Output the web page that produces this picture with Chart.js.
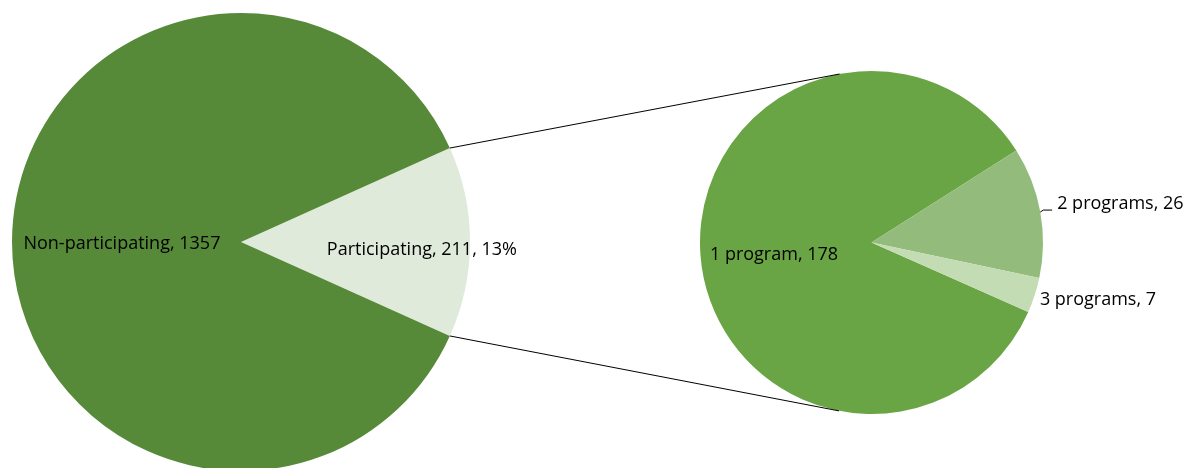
<!DOCTYPE html>
<html>
<head>
<meta charset="utf-8">
<script src="https://cdn.jsdelivr.net/npm/chart.js@4.4.0/dist/chart.umd.min.js"></script>
<style>
  html, body { margin: 0; padding: 0; background: #fff; overflow: hidden; }
  #wrap { position: relative; width: 1188px; height: 468px; overflow: hidden; }
  canvas { position: absolute; left: 0; top: 0; }
</style>
</head>
<body>
<div id="wrap">
  <canvas id="mainPie" width="1188" height="484"></canvas>
  <canvas id="subPie" width="1188" height="468"></canvas>
</div>
<script>
// main pie
const mainLabels = ['Participating', 'Non-participating'];
const mainValues = [211, 1357];
const mainColors = ['#E0EADB', '#568A39'];

// breakdown of the participating slice
const subLabels = ['1 program', '2 programs', '3 programs'];
const subValues = [178, 26, 7];
const subColors = ['#6AA545', '#93BC7C', '#C4DCB3'];

const FONT = '18px "Open Sans"';

const sum = arr => arr.reduce((a, b) => a + b, 0);

// f = fraction of radius, dy = nudge, align = text anchor
const mainLabelPos = [
  { f: 0.79, dy: 7, align: 'center' },
  { f: 0.52, dy: 1, align: 'center' }
];
const subLabelPos = [
  { f: 0.57, dy: 4, align: 'center' },
  { f: 1.10, dy: -6, align: 'left', leader: true },
  { f: 1.032, dy: 2, align: 'left' }
];

function labelPlugin(positions, textFor) {
  return {
    id: 'sliceLabels',
    afterDatasetsDraw(chart) {
      const ctx = chart.ctx;
      const arcs = chart.getDatasetMeta(0).data;
      ctx.save();
      ctx.font = FONT;
      ctx.fillStyle = '#000';
      ctx.textBaseline = 'alphabetic';
      arcs.forEach((arc, i) => {
        const p = positions[i];
        const mid = (arc.startAngle + arc.endAngle) / 2;
        const r = arc.outerRadius * p.f;
        const x = arc.x + Math.cos(mid) * r;
        const y = arc.y + Math.sin(mid) * r + p.dy;
        ctx.textAlign = p.align;
        ctx.fillText(textFor(i), x, y + 6);
        if (p.leader) {
          const ex = arc.x + Math.cos(mid) * arc.outerRadius;
          const ey = arc.y + Math.sin(mid) * arc.outerRadius;
          ctx.strokeStyle = '#000';
          ctx.lineWidth = 1;
          ctx.beginPath();
          ctx.moveTo(ex, ey);
          ctx.lineTo(ex + 3, ey - 2);
          ctx.lineTo(x - 5, ey - 2);
          ctx.stroke();
        }
      });
      ctx.restore();
    }
  };
}

const mainTotal = sum(mainValues);
const mainChart = new Chart(document.getElementById('mainPie'), {
  type: 'pie',
  data: {
    labels: mainLabels,
    datasets: [{
      data: mainValues,
      backgroundColor: mainColors,
      borderWidth: 0
    }]
  },
  options: {
    responsive: false,
    animation: false,
    // centre the participating slice on the right-hand side
    rotation: 90 - (mainValues[0] / mainTotal) * 180,
    layout: { padding: { left: 12, right: 718, top: 13, bottom: 13 } },
    plugins: { legend: { display: false }, tooltip: { enabled: false } }
  },
  plugins: [labelPlugin(mainLabelPos, i => {
    let t = mainLabels[i] + ', ' + mainValues[i];
    if (i === 0) t += ', ' + Math.round(mainValues[i] / mainTotal * 100) + '%';
    return t;
  })]
});

// lines from the participating slice edges, tangent to the second pie
const connectorPlugin = {
  id: 'connectors',
  afterDatasetsDraw(chart) {
    const src = mainChart.getDatasetMeta(0).data[0];
    const dst = chart.getDatasetMeta(0).data[0];
    const R = src.outerRadius;
    const pts = [src.startAngle, src.endAngle].map(a => ({
      x: src.x + Math.cos(a) * R,
      y: src.y + Math.sin(a) * R
    }));
    const ctx = chart.ctx;
    ctx.save();
    ctx.strokeStyle = '#000';
    ctx.lineWidth = 1;
    pts.forEach((p, k) => {
      const dx = p.x - dst.x, dy = p.y - dst.y;
      const d = Math.hypot(dx, dy);
      const base = Math.atan2(dy, dx);
      const delta = Math.acos(dst.outerRadius / d);
      const cand = [base + delta, base - delta].map(a => ({
        x: dst.x + Math.cos(a) * dst.outerRadius,
        y: dst.y + Math.sin(a) * dst.outerRadius
      }));
      cand.sort((a, b) => a.y - b.y);
      const t = k === 0 ? cand[0] : cand[1];
      ctx.beginPath();
      ctx.moveTo(p.x, p.y);
      ctx.lineTo(t.x, t.y);
      ctx.stroke();
    });
    ctx.restore();
  }
};

const subTotal = sum(subValues);
new Chart(document.getElementById('subPie'), {
  type: 'pie',
  data: {
    labels: subLabels,
    datasets: [{
      data: subValues,
      backgroundColor: subColors,
      borderWidth: 0
    }]
  },
  options: {
    responsive: false,
    animation: false,
    rotation: 57.6 - (subValues[0] / subTotal) * 360,
    layout: { padding: { left: 700, right: 145, top: 71, bottom: 54 } },
    plugins: { legend: { display: false }, tooltip: { enabled: false } }
  },
  plugins: [connectorPlugin, labelPlugin(subLabelPos, i => subLabels[i] + ', ' + subValues[i])]
});
</script>
</body>
</html>
